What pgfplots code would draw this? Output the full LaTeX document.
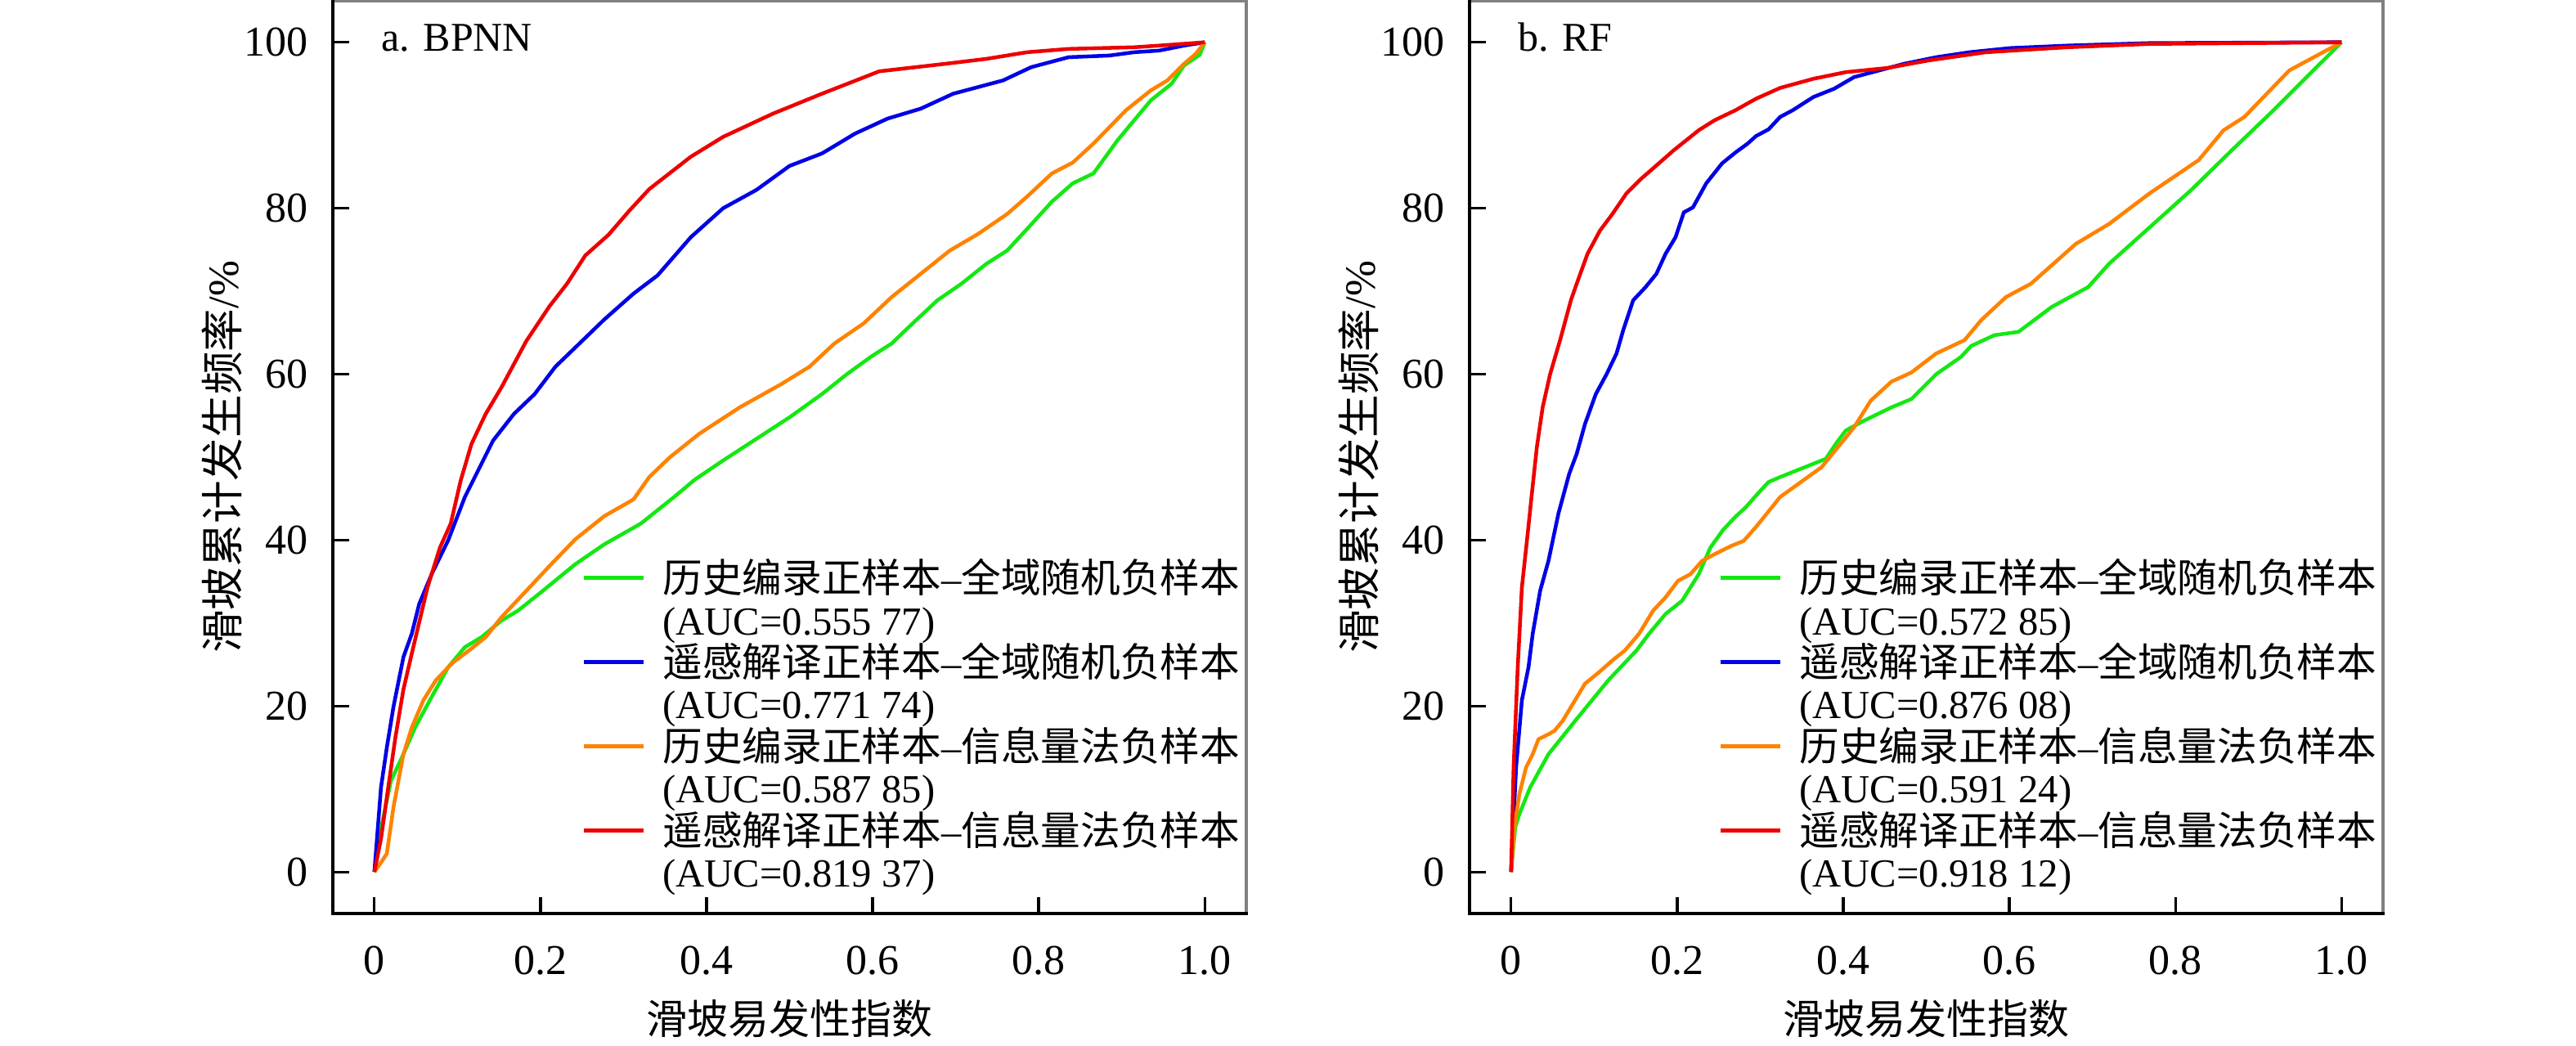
\documentclass[border=0pt]{standalone}
\usepackage{fontspec}
\setmainfont{Liberation Serif}
\newfontfamily\cjk{Noto Sans CJK SC}
\usepackage{pgfplots}
\pgfplotsset{compat=1.18}
\definecolor{cgreen}{RGB}{20,232,20}
\definecolor{cblue}{RGB}{0,0,230}
\definecolor{corange}{RGB}{255,130,0}
\definecolor{cred}{RGB}{238,0,0}
\definecolor{cframe}{RGB}{128,128,128}
\pgfplotsset{
  rocaxis/.style={
    scale only axis, width=167.55pt, height=167.4pt,
    xmin=-0.05, xmax=1.05, ymin=-5, ymax=105,
    xtick={0,0.2,0.4,0.6,0.8,1}, xticklabels={0,0.2,0.4,0.6,0.8,1.0},
    ytick={0,20,40,60,80,100},
    tick pos=left, tick align=inside, major tick length=3pt,
    tick style={black, line width=0.5pt},
    axis line style={cframe, line width=0.5pt},
    /pgf/number format/assume math mode=true,
    tick label style={font=\fontsize{7.8}{8}\selectfont},
    xticklabel style={yshift=-2.5pt},
    yticklabel style={xshift=-1.1pt},
    every axis x label/.style={at={(axis description cs:0.5,0)}, yshift=-19.35pt, anchor=center, font=\fontsize{7.5}{8}\selectfont},
    every axis y label/.style={at={(axis description cs:0,0.5)}, xshift=-20.3pt, rotate=90, anchor=center, font=\fontsize{7.9}{8}\selectfont},
    xlabel={{\cjk 滑坡易发性指数}},
    ylabel={{\cjk 滑坡累计发生频率}/\%},
    legend style={at={(axis description cs:1,0)}, anchor=south east, xshift=-1pt, yshift=2.8pt,
      draw=none, fill=none, inner sep=0pt, row sep=0pt, column sep=3.15pt,
      cells={anchor=base west},
      nodes={inner sep=0pt, text height=5.9pt, text depth=1.82pt, font=\fontsize{7.3}{7.72}\selectfont}},
    legend image code/.code={\draw[##1, line width=0.75pt] (0pt,2.7pt) -- (11pt,2.7pt);},
    every axis plot/.append style={line width=0.68pt, mark=none},
  }
}
\begin{document}
\begin{tikzpicture}
\path[use as bounding box] (0,0) rectangle (472.5pt,191.85pt);
% ---------------- a. BPNN ----------------
\begin{axis}[rocaxis, name=ax1, at={(61.05pt,191.7pt)}, anchor=north west]
\addplot[cgreen] coordinates {(0,0) (0.01,6.2) (0.02,11) (0.035,14.2) (0.049,17.4) (0.069,21.1) (0.089,24.7) (0.109,27.1) (0.129,28.3) (0.153,30.3) (0.173,31.5) (0.203,33.9) (0.242,37.1) (0.277,39.5) (0.321,42) (0.341,43.6) (0.361,45.2) (0.386,47.3) (0.42,49.6) (0.46,52.2) (0.5,54.8) (0.539,57.6) (0.569,60) (0.598,62.1) (0.623,63.7) (0.648,66.1) (0.678,68.9) (0.707,70.9) (0.737,73.3) (0.762,74.9) (0.786,77.5) (0.816,80.8) (0.841,83) (0.866,84.2) (0.895,88.2) (0.935,93) (0.96,95) (0.975,97.2) (0.994,98.5) (1,100)};
\addlegendentry{{\cjk 历史编录正样本}--{\cjk 全域随机负样本}}
\addlegendimage{empty legend}\addlegendentry{(AUC=0.555 77)}
\addplot[cblue] coordinates {(0,0) (0.008,10.2) (0.015,15) (0.023,19.9) (0.035,25.9) (0.045,28.7) (0.054,32.3) (0.069,35.9) (0.089,40) (0.109,45.2) (0.143,52) (0.168,55.2) (0.193,57.6) (0.218,60.9) (0.247,63.7) (0.277,66.6) (0.312,69.7) (0.341,71.9) (0.381,76.5) (0.42,80) (0.46,82.2) (0.5,85.1) (0.539,86.6) (0.579,89) (0.618,90.8) (0.658,92) (0.697,93.8) (0.757,95.4) (0.791,97) (0.836,98.2) (0.885,98.4) (0.915,98.8) (0.945,99) (0.975,99.6) (1,100)};
\addlegendentry{{\cjk 遥感解译正样本}--{\cjk 全域随机负样本}}
\addlegendimage{empty legend}\addlegendentry{(AUC=0.771 74)}
\addplot[corange] coordinates {(0,0) (0.007,1) (0.015,2.2) (0.023,7.8) (0.035,14.2) (0.045,17.4) (0.059,20.7) (0.074,23.1) (0.094,25.2) (0.114,26.7) (0.134,28.3) (0.153,30.7) (0.183,33.9) (0.213,37.1) (0.242,40.1) (0.277,42.9) (0.312,44.9) (0.331,47.6) (0.356,50) (0.391,52.8) (0.44,56) (0.49,58.8) (0.524,60.9) (0.554,63.7) (0.589,66.1) (0.623,69.3) (0.658,72.1) (0.693,74.9) (0.727,76.9) (0.762,79.3) (0.786,81.4) (0.816,84.2) (0.841,85.5) (0.866,87.8) (0.905,91.8) (0.935,94.2) (0.955,95.4) (0.975,97.4) (0.989,98.6) (1,100)};
\addlegendentry{{\cjk 历史编录正样本}--{\cjk 信息量法负样本}}
\addlegendimage{empty legend}\addlegendentry{(AUC=0.587 85)}
\addplot[cred] coordinates {(0,0) (0.008,4) (0.015,9) (0.025,16) (0.035,22) (0.045,26.3) (0.064,34.3) (0.079,39.1) (0.092,42) (0.104,47.2) (0.117,51.6) (0.134,55.2) (0.153,58.4) (0.183,64) (0.211,68.2) (0.232,70.9) (0.254,74.3) (0.282,76.8) (0.307,79.7) (0.331,82.3) (0.381,86.2) (0.42,88.6) (0.48,91.4) (0.539,93.8) (0.608,96.5) (0.687,97.4) (0.737,98) (0.786,98.8) (0.836,99.2) (0.915,99.4) (0.945,99.6) (1,100)};
\addlegendentry{{\cjk 遥感解译正样本}--{\cjk 信息量法负样本}}
\addlegendimage{empty legend}\addlegendentry{(AUC=0.819 37)}
\node[anchor=base west, font=\fontsize{7.5}{8}\selectfont, inner sep=0pt] at (rel axis cs:0,1) [xshift=8.7pt, yshift=-9.3pt] {a. BPNN};
\end{axis}
\draw[black, line width=0.5pt, line cap=rect] (ax1.north west) -- (ax1.south west) -- (ax1.south east);
% ---------------- b. RF ----------------
\begin{axis}[rocaxis, name=ax2, at={(269.55pt,191.7pt)}, anchor=north west]
\addplot[cgreen] coordinates {(0,0) (0.005,5.4) (0.01,7) (0.023,10.2) (0.045,14.2) (0.077,18.2) (0.117,23.1) (0.151,26.7) (0.166,28.7) (0.186,31.1) (0.206,32.7) (0.226,35.9) (0.24,39.1) (0.255,41.2) (0.27,42.8) (0.283,44) (0.297,45.6) (0.31,47) (0.324,47.6) (0.344,48.4) (0.364,49.2) (0.379,49.8) (0.391,51.6) (0.403,53.2) (0.423,54.3) (0.458,56) (0.482,57) (0.512,60) (0.542,62.1) (0.554,63.4) (0.582,64.7) (0.611,65.1) (0.651,68.1) (0.695,70.5) (0.72,73.3) (0.769,77.7) (0.819,82.2) (0.868,87) (0.918,91.8) (1,100)};
\addlegendentry{{\cjk 历史编录正样本}--{\cjk 全域随机负样本}}
\addlegendimage{empty legend}\addlegendentry{(AUC=0.572 85)}
\addplot[cblue] coordinates {(0,0) (0.006,12.6) (0.013,20.7) (0.021,24.7) (0.026,28.7) (0.035,33.9) (0.045,37.5) (0.057,43.2) (0.07,48) (0.079,50.4) (0.089,54) (0.102,57.6) (0.115,60) (0.127,62.5) (0.135,65.3) (0.147,68.9) (0.162,70.5) (0.175,72.1) (0.186,74.5) (0.198,76.5) (0.208,79.5) (0.219,80.1) (0.235,83) (0.254,85.4) (0.27,86.7) (0.285,87.8) (0.295,88.7) (0.31,89.5) (0.324,91) (0.339,91.8) (0.364,93.4) (0.389,94.4) (0.413,95.8) (0.443,96.6) (0.473,97.4) (0.512,98.2) (0.552,98.8) (0.601,99.3) (0.67,99.6) (0.769,99.9) (1,100)};
\addlegendentry{{\cjk 遥感解译正样本}--{\cjk 全域随机负样本}}
\addlegendimage{empty legend}\addlegendentry{(AUC=0.876 08)}
\addplot[corange] coordinates {(0,0) (0.004,5.4) (0.01,9.4) (0.018,12.6) (0.026,14.2) (0.033,16) (0.045,16.6) (0.052,17) (0.062,18.2) (0.077,20.7) (0.089,22.7) (0.105,24) (0.122,25.5) (0.137,26.7) (0.154,28.7) (0.171,31.5) (0.186,33.1) (0.201,35.1) (0.216,35.9) (0.23,37.5) (0.245,38.3) (0.265,39.3) (0.28,39.9) (0.295,41.6) (0.324,45.2) (0.374,48.8) (0.413,53.6) (0.433,56.8) (0.458,59.1) (0.482,60.2) (0.512,62.5) (0.546,64.1) (0.566,66.5) (0.596,69.3) (0.626,70.9) (0.68,75.7) (0.72,78.1) (0.769,81.8) (0.828,85.8) (0.858,89.4) (0.883,91) (0.937,96.6) (1,100)};
\addlegendentry{{\cjk 历史编录正样本}--{\cjk 信息量法负样本}}
\addlegendimage{empty legend}\addlegendentry{(AUC=0.591 24)}
\addplot[cred] coordinates {(0,0) (0.003,12.6) (0.008,24.7) (0.013,34.3) (0.02,40.8) (0.025,45.6) (0.031,51.2) (0.038,56) (0.047,60) (0.059,64.1) (0.072,68.9) (0.079,70.9) (0.092,74.5) (0.107,77.3) (0.122,79.3) (0.139,81.8) (0.156,83.5) (0.171,84.8) (0.196,87) (0.226,89.4) (0.245,90.6) (0.27,91.8) (0.295,93.2) (0.324,94.5) (0.364,95.6) (0.403,96.4) (0.453,96.9) (0.502,97.8) (0.572,98.8) (0.67,99.4) (0.769,99.8) (1,100)};
\addlegendentry{{\cjk 遥感解译正样本}--{\cjk 信息量法负样本}}
\addlegendimage{empty legend}\addlegendentry{(AUC=0.918 12)}
\node[anchor=base west, font=\fontsize{7.5}{8}\selectfont, inner sep=0pt] at (rel axis cs:0,1) [xshift=8.7pt, yshift=-9.3pt] {b. RF};
\end{axis}
\draw[black, line width=0.5pt, line cap=rect] (ax2.north west) -- (ax2.south west) -- (ax2.south east);
\end{tikzpicture}
\end{document}
